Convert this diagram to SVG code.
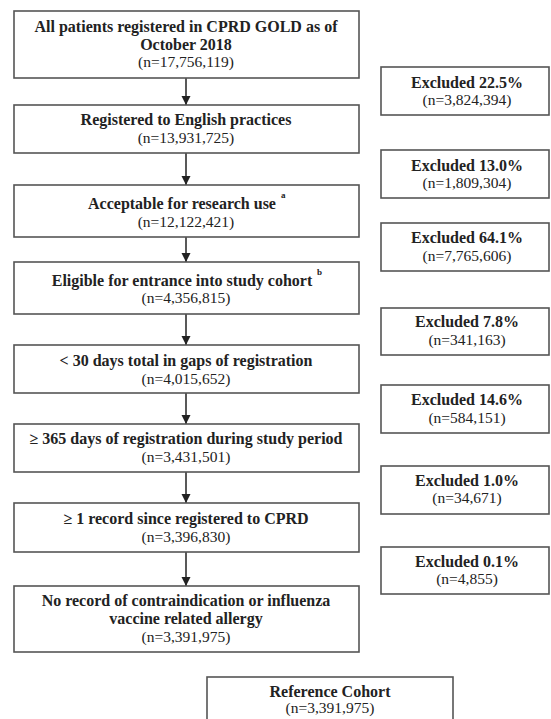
<svg xmlns="http://www.w3.org/2000/svg" width="551" height="719" viewBox="0 0 551 719" font-family="'Liberation Serif', 'Times New Roman', Times, serif">
<defs>
<marker id="ah" markerWidth="9" markerHeight="10" refX="9" refY="4.5" orient="auto" markerUnits="userSpaceOnUse" viewBox="0 0 9 9">
<path d="M0,0 L9,4.5 L0,9 Z" fill="#222"/>
</marker>
<style>
rect{fill:#fff;stroke:#555;stroke-width:1.6}
text{font-family:'Liberation Serif', 'Times New Roman', Times, serif;fill:#222;text-anchor:middle}
.t{font-weight:bold;font-size:16px}
.n{font-size:15.5px}
.s{font-weight:bold;font-size:9px;text-anchor:start}
.c line{stroke:#222;stroke-width:1.5}
</style>
</defs>
<rect x="0" y="0" width="551" height="719" style="fill:#fff;stroke:none"/>
<g class="c" id="connectors">
<line x1="186" y1="78" x2="186" y2="105" marker-end="url(#ah)"/>
<line x1="186" y1="153" x2="186" y2="185" marker-end="url(#ah)"/>
<line x1="186" y1="237" x2="186" y2="262" marker-end="url(#ah)"/>
<line x1="186" y1="314" x2="186" y2="345" marker-end="url(#ah)"/>
<line x1="186" y1="393" x2="186" y2="424" marker-end="url(#ah)"/>
<line x1="186" y1="472" x2="186" y2="503" marker-end="url(#ah)"/>
<line x1="186" y1="552" x2="186" y2="586" marker-end="url(#ah)"/>
</g>
<g id="n1"><rect x="14" y="11" width="345" height="67"/>
<text class="t" x="186" y="32">All patients registered in CPRD GOLD as of</text>
<text class="t" x="186" y="50">October 2018</text>
<text class="n" x="186" y="67">(n=17,756,119)</text></g>
<g id="n2"><rect x="14" y="105" width="345" height="48"/>
<text class="t" x="186" y="125">Registered to English practices</text>
<text class="n" x="186" y="143">(n=13,931,725)</text></g>
<g id="n3"><rect x="14" y="185" width="345" height="52"/>
<text class="t" x="182" y="209">Acceptable for research use</text>
<text class="s" x="281" y="198">a</text>
<text class="n" x="186" y="227">(n=12,122,421)</text></g>
<g id="n4"><rect x="14" y="262" width="345" height="52"/>
<text class="t" x="182" y="286">Eligible for entrance into study cohort</text>
<text class="s" x="317" y="275">b</text>
<text class="n" x="186" y="303">(n=4,356,815)</text></g>
<g id="n5"><rect x="14" y="345" width="345" height="48"/>
<text class="t" x="186" y="366">&lt; 30 days total in gaps of registration</text>
<text class="n" x="186" y="384">(n=4,015,652)</text></g>
<g id="n6"><rect x="14" y="424" width="345" height="48"/>
<text class="t" x="186" y="444">≥ 365 days of registration during study period</text>
<text class="n" x="186" y="462">(n=3,431,501)</text></g>
<g id="n7"><rect x="14" y="503" width="345" height="49"/>
<text class="t" x="186" y="524">≥ 1 record since registered to CPRD</text>
<text class="n" x="186" y="542">(n=3,396,830)</text></g>
<g id="n8"><rect x="14" y="586" width="345" height="66"/>
<text class="t" x="186" y="606">No record of contraindication or influenza</text>
<text class="t" x="186" y="624">vaccine related allergy</text>
<text class="n" x="186" y="642">(n=3,391,975)</text></g>
<g id="e1"><rect x="381" y="67" width="168" height="48"/>
<text class="t" x="467" y="88">Excluded 22.5%</text>
<text class="n" x="467" y="105">(n=3,824,394)</text></g>
<g id="e2"><rect x="381" y="150" width="168" height="48"/>
<text class="t" x="467" y="171">Excluded 13.0%</text>
<text class="n" x="467" y="188">(n=1,809,304)</text></g>
<g id="e3"><rect x="381" y="223" width="168" height="48"/>
<text class="t" x="467" y="243">Excluded 64.1%</text>
<text class="n" x="467" y="261">(n=7,765,606)</text></g>
<g id="e4"><rect x="381" y="308" width="168" height="47"/>
<text class="t" x="467" y="327">Excluded 7.8%</text>
<text class="n" x="467" y="345">(n=341,163)</text></g>
<g id="e5"><rect x="381" y="385" width="168" height="48"/>
<text class="t" x="467" y="405">Excluded 14.6%</text>
<text class="n" x="467" y="423">(n=584,151)</text></g>
<g id="e6"><rect x="381" y="466" width="168" height="48"/>
<text class="t" x="467" y="486">Excluded 1.0%</text>
<text class="n" x="467" y="503">(n=34,671)</text></g>
<g id="e7"><rect x="381" y="547" width="168" height="47"/>
<text class="t" x="467" y="567">Excluded 0.1%</text>
<text class="n" x="467" y="584">(n=4,855)</text></g>
<g id="ref"><rect x="207" y="677" width="246" height="50"/>
<text class="t" x="330" y="697">Reference Cohort</text>
<text class="n" x="330" y="713">(n=3,391,975)</text></g>
</svg>
